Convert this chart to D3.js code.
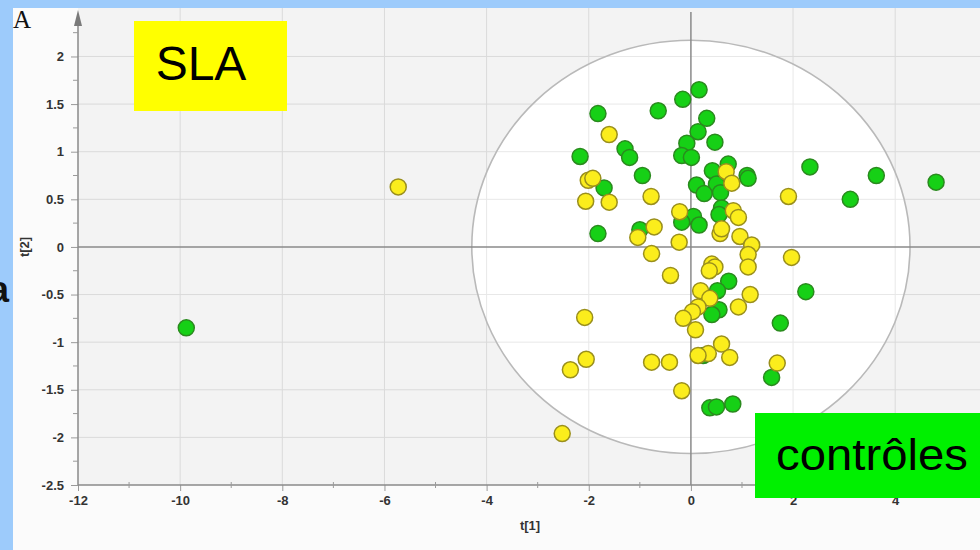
<!DOCTYPE html>
<html>
<head>
<meta charset="utf-8">
<script src="https://cdn.jsdelivr.net/npm/d3@7/dist/d3.min.js"></script>
<style>
  html, body { margin: 0; padding: 0; background: #9dcbfb; }
  svg { display: block; }
</style>
</head>
<body>
<svg id="chart" width="980" height="550"></svg>
<script>
// ---- Data ----
const slaX = [-5.73, -1.60, -2.01, -1.92, 0.69, 0.80, -2.06, -1.60, -0.78, 1.91,
  -0.22, 0.83, 0.93, -0.72, -1.04, 0.57, 0.60, 0.96, 1.19, 1.12,
  -0.23, -0.77, 1.97, 1.12, 0.41, 0.47, 0.36, -0.40, 0.19, 1.16,
  0.37, 0.93, 0.14, 0.03, -0.15, -2.08, 0.09, 0.60, 0.34, 0.14,
  0.76, 1.69, -2.05, -2.36, -0.77, -0.42, -0.18, -2.52];
const slaY = [0.63, 1.18, 0.70, 0.72, 0.79, 0.67, 0.48, 0.47, 0.53, 0.53,
  0.37, 0.38, 0.31, 0.21, 0.10, 0.14, 0.19, 0.11, 0.02, -0.08,
  0.05, -0.07, -0.11, -0.21, -0.18, -0.21, -0.25, -0.30, -0.46, -0.50,
  -0.54, -0.63, -0.63, -0.68, -0.75, -0.74, -0.87, -1.02, -1.12, -1.14,
  -1.16, -1.22, -1.18, -1.29, -1.21, -1.21, -1.51, -1.96];

const ctrlX = [0.16, -0.16, -0.64, -1.82, 0.31, 0.14, 0.47, -0.08, -1.29, -1.20,
  -2.17, -0.18, 0.01, 2.33, 0.73, 0.42, 1.10, 1.12, -0.95, -1.70,
  0.11, 0.50, 0.26, 0.58, 0.60, 0.55, 0.05, -0.18, 0.16, -1.82,
  -1.00, 3.63, 3.12, 4.80, -9.88, 0.74, 0.52, 0.55, 0.41, 2.25,
  1.75, 0.24, 1.58, 0.37, 0.50, 0.82];
const ctrlY = [1.65, 1.55, 1.43, 1.40, 1.35, 1.21, 1.10, 1.09, 1.03, 0.94,
  0.95, 0.96, 0.94, 0.84, 0.87, 0.80, 0.75, 0.72, 0.75, 0.62,
  0.65, 0.66, 0.56, 0.57, 0.41, 0.34, 0.32, 0.26, 0.23, 0.14,
  0.18, 0.75, 0.50, 0.68, -0.85, -0.36, -0.46, -0.66, -0.71, -0.47,
  -0.80, -1.14, -1.37, -1.69, -1.68, -1.65];

const xTicks = [-12, -10, -8, -6, -4, -2, 0, 2, 4];
const xMinor = [-11, -9, -7, -5, -3, -1, 1, 3, 5];
const yTicks = [-2.5, -2, -1.5, -1, -0.5, 0, 0.5, 1, 1.5, 2];
const yMinor = [-2.25, -1.75, -1.25, -0.75, -0.25, 0.25, 0.75, 1.25, 1.75, 2.25];
const ellipse = { cx: 0, cy: 0.0, rx: 4.29, ry: 2.17 };

// ---- Layout ----
const svg = d3.select("#chart");
const W = 980, H = 550;
const L = 78, R = 980, T = 12, B = 485;

const x = d3.scaleLinear().domain([-12, 5.66]).range([L, R]);
const y = d3.scaleLinear().domain([-2.5, 2.467]).range([B, T]);

// backgrounds
svg.append("rect").attr("x", 0).attr("y", 0).attr("width", W).attr("height", H).attr("fill", "#9dcbfb");
svg.append("rect").attr("x", 13).attr("y", 8).attr("width", W - 13).attr("height", H - 8).attr("fill", "#fbfbfb");
svg.append("rect").attr("x", L).attr("y", 8).attr("width", R - L).attr("height", B - 8).attr("fill", "#f3f3f3");

svg.append("clipPath").attr("id", "plotclip")
  .append("rect").attr("x", L).attr("y", 8).attr("width", R - L).attr("height", B - 8);

const plot = svg.append("g").attr("clip-path", "url(#plotclip)");

// grid
plot.selectAll(".vg").data(xTicks.filter(d => d !== -12 && d !== 0)).join("line")
  .attr("x1", d => x(d)).attr("x2", d => x(d)).attr("y1", 8).attr("y2", B)
  .attr("stroke", "#dadada").attr("stroke-width", 1);
plot.selectAll(".hg").data(yTicks.filter(d => d !== -2.5 && d !== 0)).join("line")
  .attr("x1", L).attr("x2", R).attr("y1", d => y(d)).attr("y2", d => y(d))
  .attr("stroke", "#dadada").attr("stroke-width", 1);

// ellipse (white inside)
const ex = x(ellipse.cx), ey = y(ellipse.cy);
const erx = x(ellipse.cx + ellipse.rx) - x(ellipse.cx);
const ery = y(ellipse.cy) - y(ellipse.cy + ellipse.ry);
plot.append("ellipse").attr("cx", ex).attr("cy", ey).attr("rx", erx).attr("ry", ery)
  .attr("fill", "#ffffff");
svg.append("clipPath").attr("id", "ellclip").append("ellipse")
  .attr("cx", ex).attr("cy", ey).attr("rx", erx).attr("ry", ery);
plot.selectAll(".vg2").data(xTicks.filter(d => d !== -12 && d !== 0)).join("line")
  .attr("x1", d => x(d)).attr("x2", d => x(d)).attr("y1", 8).attr("y2", B)
  .attr("stroke", "#e8e8e8").attr("stroke-width", 1)
  .attr("clip-path", "url(#ellclip)");
plot.selectAll(".hg2").data(yTicks.filter(d => d !== -2.5 && d !== 0)).join("line")
  .attr("x1", L).attr("x2", R).attr("y1", d => y(d)).attr("y2", d => y(d))
  .attr("stroke", "#e8e8e8").attr("stroke-width", 1)
  .attr("clip-path", "url(#ellclip)");
plot.append("ellipse").attr("cx", ex).attr("cy", ey).attr("rx", erx).attr("ry", ery)
  .attr("fill", "none").attr("stroke", "#b9b9b9").attr("stroke-width", 1.6);

// zero lines
plot.append("line").attr("x1", L).attr("x2", R).attr("y1", y(0)).attr("y2", y(0))
  .attr("stroke", "#8a8a8a").attr("stroke-width", 1.5);
plot.append("line").attr("x1", x(0)).attr("x2", x(0)).attr("y1", T).attr("y2", B)
  .attr("stroke", "#8a8a8a").attr("stroke-width", 1.5);

// axes
const tickFmt = d => String(d);
const yAxis = d3.axisLeft(y).tickValues(yTicks).tickSize(7).tickFormat(tickFmt).tickSizeOuter(0);
const gy = svg.append("g").attr("transform", `translate(${L},0)`).call(yAxis);
gy.select(".domain").remove();
gy.append("line").attr("x1", 0).attr("x2", 0).attr("y1", T + 6).attr("y2", B).attr("stroke", "#8a8a8a").attr("stroke-width", 1.5);
gy.append("path").attr("d", `M0,${T - 2} L-4,${T + 14} L4,${T + 14} Z`).attr("fill", "#7a7a7a");
gy.selectAll(".mt").data(yMinor).join("line")
  .attr("x1", -5).attr("x2", 0).attr("y1", d => y(d)).attr("y2", d => y(d))
  .attr("stroke", "#9a9a9a");

const xAxis = d3.axisBottom(x).tickValues(xTicks).tickSize(6).tickFormat(tickFmt).tickSizeOuter(0);
const gx = svg.append("g").attr("transform", `translate(0,${B})`).call(xAxis);
gx.select(".domain").remove();
gx.append("line").attr("x1", L).attr("x2", R).attr("y1", 0).attr("y2", 0).attr("stroke", "#8a8a8a").attr("stroke-width", 1.5);
gx.selectAll(".mt").data(xMinor).join("line")
  .attr("x1", d => x(d)).attr("x2", d => x(d)).attr("y1", -3).attr("y2", 3)
  .attr("stroke", "#9a9a9a");

[gx, gy].forEach(g => {
  g.selectAll(".tick line").attr("stroke", "#9a9a9a");
  g.selectAll(".tick text").attr("fill", "#333")
    .style("font-family", "'Liberation Sans Narrow', 'Liberation Sans', Arial, sans-serif")
    .style("font-weight", "bold").style("font-size", "13px");
});
gy.selectAll(".tick text").attr("x", -14);
gx.selectAll(".tick text").attr("y", 11);

// axis titles
svg.append("text").attr("x", 530).attr("y", 530).attr("text-anchor", "middle")
  .style("font-family", "'Liberation Sans Narrow', Arial, sans-serif").style("font-weight", "bold")
  .style("font-size", "13px").attr("fill", "#333").text("t[1]");
svg.append("text").attr("transform", "translate(29,247) rotate(-90)").attr("text-anchor", "middle")
  .style("font-family", "'Liberation Sans Narrow', Arial, sans-serif").style("font-weight", "bold")
  .style("font-size", "13px").attr("fill", "#333").text("t[2]");

// points
const ctrl = ctrlX.map((v, i) => ({ x: v, y: ctrlY[i] }));
const sla = slaX.map((v, i) => ({ x: v, y: slaY[i] }));
svg.append("g").selectAll("circle").data(ctrl).join("circle")
  .attr("cx", d => x(d.x)).attr("cy", d => y(d.y)).attr("r", 8)
  .attr("fill", "#16d016").attr("stroke", "#2a8a1e").attr("stroke-width", 1.5);
svg.append("g").selectAll("circle").data(sla).join("circle")
  .attr("cx", d => x(d.x)).attr("cy", d => y(d.y)).attr("r", 8)
  .attr("fill", "#fbed1c").attr("stroke", "#9a8f1c").attr("stroke-width", 1.5);

// label boxes
svg.append("rect").attr("x", 134).attr("y", 21).attr("width", 153).attr("height", 90).attr("fill", "#ffff00");
svg.append("text").attr("x", 201).attr("y", 80).attr("text-anchor", "middle")
  .style("font-family", "'Liberation Sans', Arial, sans-serif").style("font-size", "48px")
  .attr("fill", "#000").text("SLA");
svg.append("rect").attr("x", 755).attr("y", 413).attr("width", 225).attr("height", 85).attr("fill", "#00f000");
svg.append("text").attr("x", 872).attr("y", 470).attr("text-anchor", "middle")
  .style("font-family", "'Liberation Sans', Arial, sans-serif").style("font-size", "44px")
  .attr("textLength", 192).attr("lengthAdjust", "spacingAndGlyphs")
  .attr("fill", "#000").text("contrôles");

// corner letters
svg.append("text").attr("x", 13).attr("y", 28)
  .style("font-family", "'Liberation Serif', 'Times New Roman', serif").style("font-size", "25px")
  .attr("fill", "#111").text("A");
svg.append("text").attr("x", -11).attr("y", 302)
  .style("font-family", "'Liberation Sans', Arial, sans-serif").style("font-size", "36px")
  .style("font-weight", "bold").attr("fill", "#111").text("a");
</script>
</body>
</html>
